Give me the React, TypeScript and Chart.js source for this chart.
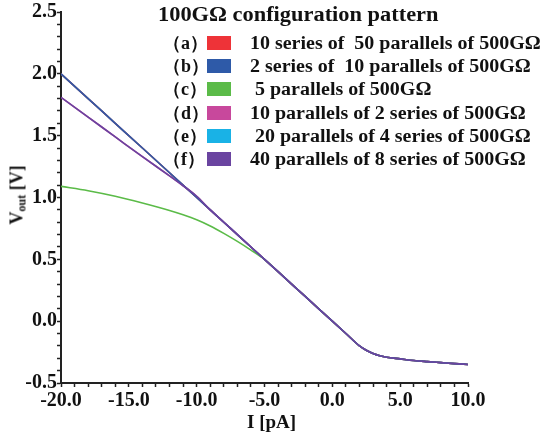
import React, { useEffect, useRef } from "react";
import { Chart, registerables } from "chart.js";

Chart.register(...registerables);

// I [pA]
const currentPA = [-20, -18, -16, -14, -12, -11, -10, -9, -8, -7, -6, -5, -4, -3, -2, -1, 0, 1, 2, 2.5, 3, 3.5, 4, 5, 6, 7, 8, 9, 10];

// Vout [V]
const seriesA = [2.0, 1.8, 1.6, 1.4, 1.2, 1.1, 1.0, 0.9, 0.8, 0.7, 0.6, 0.5, 0.4, 0.3, 0.2, 0.1, 0.0, -0.1, -0.2, -0.235, -0.262, -0.28, -0.292, -0.305, -0.318, -0.327, -0.335, -0.343, -0.35];
const seriesB = [2.0, 1.8, 1.6, 1.4, 1.2, 1.1, 1.0, 0.9, 0.8, 0.7, 0.6, 0.5, 0.4, 0.3, 0.2, 0.1, 0.0, -0.1, -0.2, -0.235, -0.262, -0.28, -0.292, -0.305, -0.318, -0.327, -0.335, -0.343, -0.35];
const seriesC = [1.09, 1.055, 1.01, 0.955, 0.895, 0.86, 0.82, 0.77, 0.71, 0.645, 0.575, 0.5, 0.4, 0.3, 0.2, 0.1, 0.0, -0.1, -0.2, -0.235, -0.262, -0.28, -0.292, -0.305, -0.318, -0.327, -0.335, -0.343, -0.35];
const seriesD = [1.81, 1.65, 1.49, 1.33, 1.175, 1.095, 1.01, 0.9, 0.8, 0.7, 0.6, 0.5, 0.4, 0.3, 0.2, 0.1, 0.0, -0.1, -0.2, -0.235, -0.262, -0.28, -0.292, -0.305, -0.318, -0.327, -0.335, -0.343, -0.35];
const seriesE = [2.0, 1.8, 1.6, 1.4, 1.2, 1.1, 1.0, 0.9, 0.8, 0.7, 0.6, 0.5, 0.4, 0.3, 0.2, 0.1, 0.0, -0.1, -0.2, -0.235, -0.262, -0.28, -0.292, -0.305, -0.318, -0.327, -0.335, -0.343, -0.35];
const seriesF = [1.81, 1.65, 1.49, 1.33, 1.175, 1.095, 1.01, 0.9, 0.8, 0.7, 0.6, 0.5, 0.4, 0.3, 0.2, 0.1, 0.0, -0.1, -0.2, -0.235, -0.262, -0.28, -0.292, -0.305, -0.318, -0.327, -0.335, -0.343, -0.35];

const legendTags = ["（a）", "（b）", "（c）", "（d）", "（e）", "（f）"];
const legendLabels = [
  "10 series of  50 parallels of 500GΩ",
  "2 series of  10 parallels of 500GΩ",
  " 5 parallels of 500GΩ",
  "10 parallels of 2 series of 500GΩ",
  " 20 parallels of 4 series of 500GΩ",
  "40 parallels of 8 series of 500GΩ",
];
const seriesColors = ["#ee3338", "#2e5aa8", "#5bbb48", "#c8489c", "#19b2e6", "#6a44a0"];
const seriesOrder = [3, 1, 2, 2, 3, 0];
const allSeries = [seriesA, seriesB, seriesC, seriesD, seriesE, seriesF];

const chartTitle = "100GΩ configuration pattern";
const xTitle = "I [pA]";

const SERIF = '"Liberation Serif", "Times New Roman", serif';

export default function App() {
  const canvasRef = useRef<HTMLCanvasElement | null>(null);

  useEffect(() => {
    document.body.style.margin = "0";
    const canvas = canvasRef.current;
    if (!canvas) return;
    const datasets = allSeries.map((vals, i) => ({
      label: legendLabels[i],
      data: currentPA.map((x, j) => ({ x, y: vals[j] })),
      borderColor: seriesColors[i],
      backgroundColor: seriesColors[i],
      borderWidth: 1.6,
      pointRadius: 0,
      fill: false,
      cubicInterpolationMode: "monotone" as const,
      order: seriesOrder[i],
    }));
    const chart = new Chart(canvas, {
      type: "line",
      data: { datasets },
      options: {
        animation: false,
        responsive: false,
        devicePixelRatio: 1,
        layout: { padding: { top: 10, right: 87, left: 0, bottom: 0 } },
        plugins: { legend: { display: false }, tooltip: { enabled: false }, title: { display: false } },
        scales: {
          x: {
            type: "linear",
            min: -20,
            max: 10,
            afterFit: (s: any) => { s.height = 53; },
            grid: { drawOnChartArea: false, drawTicks: true, tickLength: 4, tickColor: "#222", tickWidth: 1.5 },
            border: { display: true, color: "#222", width: 2 },
            ticks: {
              stepSize: 1,
              autoSkip: false,
              maxRotation: 0,
              padding: 2,
              color: "#111",
              font: { family: SERIF, size: 20, weight: "bold" },
              callback: (v: any) => (Math.round(Number(v)) % 5 === 0 ? Number(v).toFixed(1) : ""),
            },
          },
          y: {
            type: "linear",
            min: -0.5,
            max: 2.5,
            afterFit: (s: any) => { s.width = 61; },
            grid: { drawOnChartArea: false, drawTicks: true, tickLength: 4, tickColor: "#222", tickWidth: 1.5 },
            border: { display: true, color: "#222", width: 2 },
            ticks: {
              stepSize: 0.1,
              autoSkip: false,
              padding: 0,
              color: "#111",
              font: { family: SERIF, size: 20, weight: "bold" },
              callback: (v: any) => (Math.round(Number(v) * 10) % 5 === 0 ? Number(v).toFixed(1) : ""),
            },
          },
        },
      },
    });
    return () => chart.destroy();
  }, []);

  const rowCenters = [43, 66, 89, 113, 136, 159];

  return (
    <div style={{ position: "relative", width: 555, height: 436, background: "#fff", fontFamily: SERIF, color: "#111", overflow: "hidden" }}>
      <canvas ref={canvasRef} width={555} height={436} style={{ position: "absolute", left: 0, top: 0, width: 555, height: 436 }} />
      <div style={{ position: "absolute", left: 158, top: 2, fontSize: 20, fontWeight: "bold", whiteSpace: "pre", lineHeight: "24px", transform: "scaleX(1.12)", transformOrigin: "0 0" }}>{chartTitle}</div>
      {legendLabels.map((lab, i) => (
        <React.Fragment key={i}>
          <div style={{ position: "absolute", left: 163, top: rowCenters[i] - 11, fontSize: 18, fontWeight: "bold", lineHeight: "22px", whiteSpace: "pre" }}>{legendTags[i]}</div>
          <div style={{ position: "absolute", left: 207, top: rowCenters[i] - 7, width: 24, height: 14, background: seriesColors[i] }} />
          <div style={{ position: "absolute", left: 250, top: rowCenters[i] - 11, fontSize: 18, fontWeight: "bold", lineHeight: "22px", whiteSpace: "pre", transform: "scaleX(1.11)", transformOrigin: "0 0" }}>{lab}</div>
        </React.Fragment>
      ))}
      <div style={{ position: "absolute", left: 247, top: 412, fontSize: 19, fontWeight: "bold", lineHeight: "20px", whiteSpace: "pre" }}>{xTitle}</div>
      <div style={{ position: "absolute", left: 19, top: 195, width: 0, height: 0 }}>
        <div style={{ position: "absolute", left: 0, top: 0, transform: "translate(-50%, -50%) rotate(-90deg)", fontSize: 18, fontWeight: "bold", whiteSpace: "pre", lineHeight: "20px" }}>
          V<sub style={{ fontSize: 12, verticalAlign: "-3px" }}>out</sub> [V]
        </div>
      </div>
    </div>
  );
}
